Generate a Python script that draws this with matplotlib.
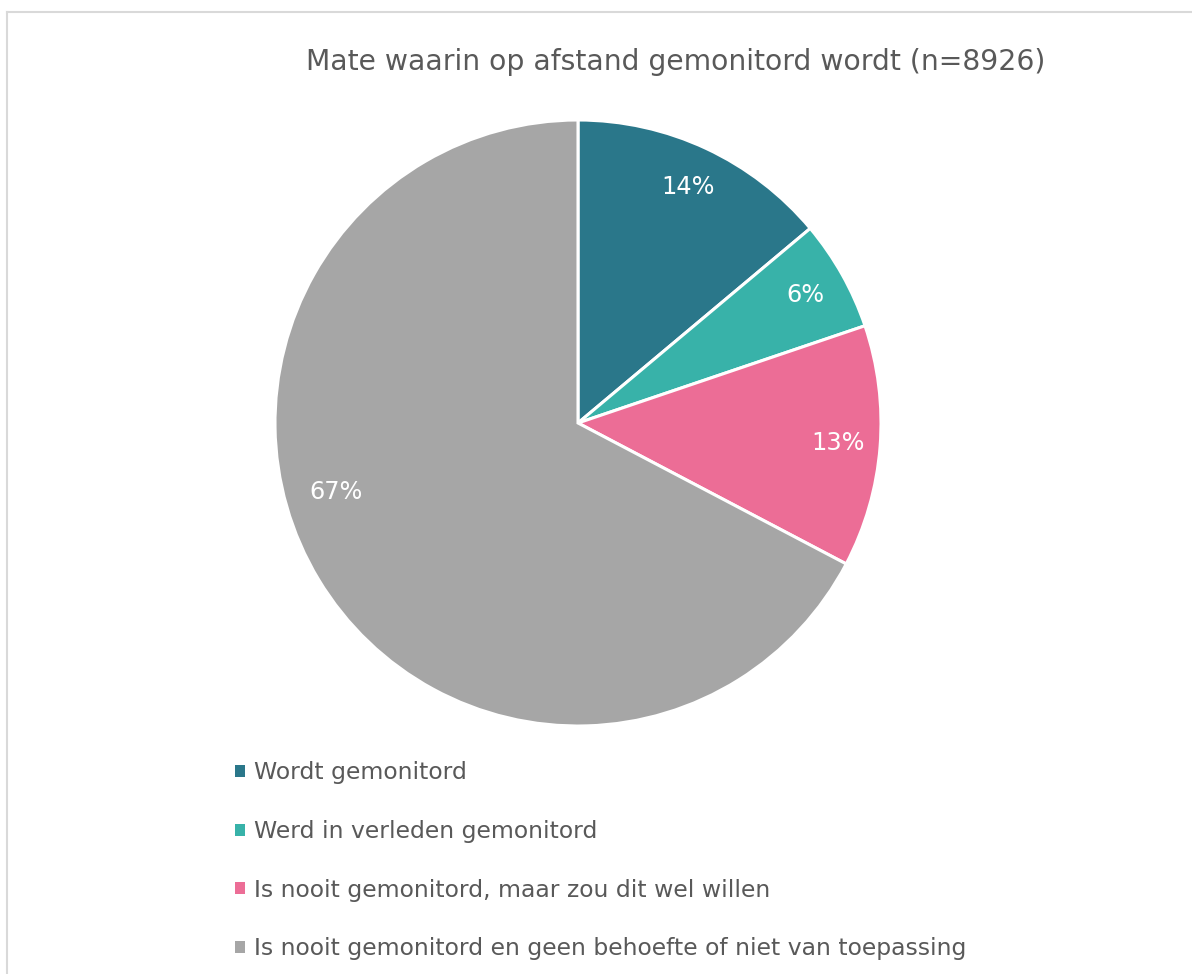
import matplotlib
matplotlib.use('Agg')
import matplotlib.pyplot as plt
from matplotlib.lines import Line2D

# Data
categories = ['Wordt gemonitord',
              'Werd in verleden gemonitord',
              'Is nooit gemonitord, maar zou dit wel willen',
              'Is nooit gemonitord en geen behoefte of niet van toepassing']
shares = [13.9, 5.9, 12.9, 67.3]
colors = ['#2a778a', '#38b2a9', '#ec6d96', '#a6a6a6']
title = 'Mate waarin op afstand gemonitord wordt (n=8926)'

W, H = 1192, 974
text_color = '#595959'
plt.rcParams['font.family'] = ['DejaVu Sans']

fig = plt.figure(figsize=(W / 100, H / 100), dpi=100)

# Chart border (only left and top visible in the crop)
fig.add_artist(Line2D([7.5 / W, 7.5 / W], [0, 1 - 11.5 / H], color='#d9d9d9', lw=1.5))
fig.add_artist(Line2D([7.5 / W, 1], [1 - 11.5 / H, 1 - 11.5 / H], color='#d9d9d9', lw=1.5))

# Pie
cx, cy, r = 578, 423, 303
ax = fig.add_axes([(cx - r) / W, (H - cy - r) / H, 2 * r / W, 2 * r / H])
wedges, texts, autotexts = ax.pie(
    shares, colors=colors, startangle=90, counterclock=False,
    autopct='%1.0f%%', pctdistance=0.86,
    wedgeprops=dict(edgecolor='white', linewidth=2.2),
    textprops=dict(color='white', fontsize=17.3))
# the big slice's label sits nearer the left edge in the original
autotexts[3].set_position((-0.80, -0.228))
ax.set_xlim(-1, 1)
ax.set_ylim(-1, 1)
ax.set_aspect('auto')
ax.axis('off')

fig.text(676 / W, 1 - 62 / H, title, ha='center', va='center',
         fontsize=20.3, color=text_color)

# Legend
leg = fig.legend(wedges, categories, loc='upper left',
                 bbox_to_anchor=(226 / W, 1 - 752 / H),
                 frameon=False, fontsize=16.9, labelcolor=text_color,
                 handlelength=0.42, handleheight=0.42, handletextpad=0.38,
                 labelspacing=1.52, borderaxespad=0)
for h in leg.legend_handles:
    h.set_edgecolor('none')

plt.savefig('out.png', dpi=100)
plt.close()
